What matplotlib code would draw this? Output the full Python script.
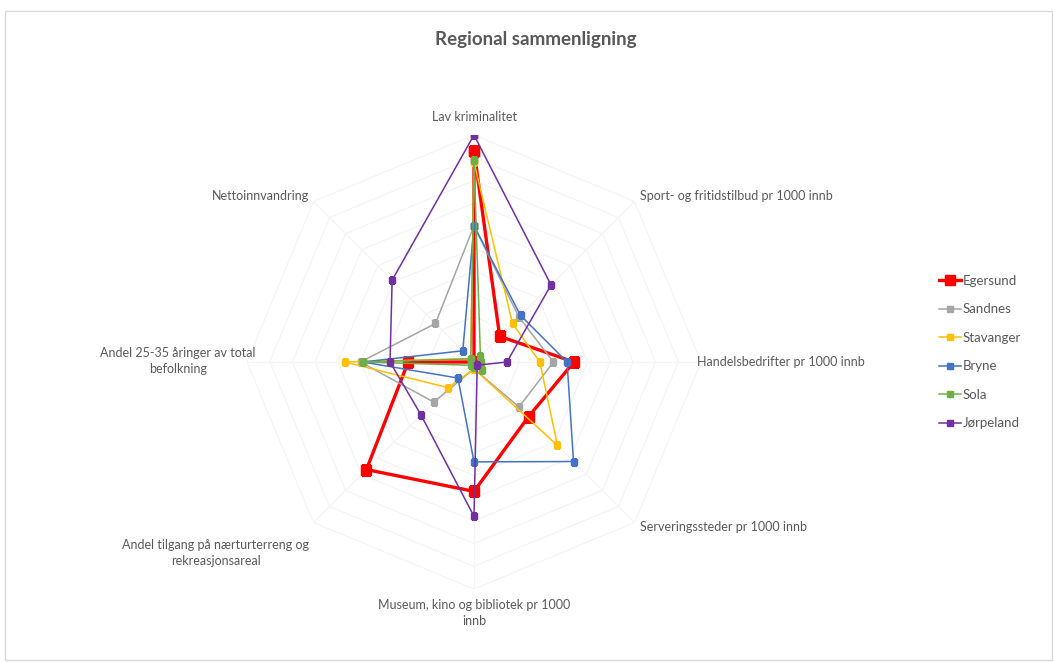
import numpy as np
import matplotlib
matplotlib.use("Agg")
import matplotlib.pyplot as plt
from matplotlib.patches import Rectangle

# Radar categories (clockwise from top)
categories = [
    "Lav kriminalitet",
    "Sport- og fritidstilbud pr 1000 innb",
    "Handelsbedrifter pr 1000 innb",
    "Serveringssteder pr 1000 innb",
    "Museum, kino og bibliotek pr 1000\ninnb",
    "Andel tilgang på nærturterreng og\nrekreasjonsareal",
    "Andel 25-35 åringer av total\nbefolkning",
    "Nettoinnvandring",
]

egersund = [0.93, 0.16, 0.44, 0.34, 0.57, 0.67, 0.29, 0.00]
sandnes = [0.60, 0.28, 0.35, 0.28, 0.03, 0.25, 0.50, 0.24]
stavanger = [0.88, 0.24, 0.29, 0.52, 0.03, 0.16, 0.57, 0.02]
bryne = [0.60, 0.29, 0.41, 0.62, 0.44, 0.10, 0.49, 0.07]
sola = [0.89, 0.04, 0.03, 0.05, 0.02, 0.02, 0.49, 0.02]
jorpeland = [1.00, 0.48, 0.145, 0.02, 0.68, 0.33, 0.37, 0.51]

series = [
    ("Egersund", egersund, "#FF0000", 2.4, 7),
    ("Sandnes", sandnes, "#A5A5A5", 1.1, 4.5),
    ("Stavanger", stavanger, "#FFC000", 1.1, 4.5),
    ("Bryne", bryne, "#4472C4", 1.1, 4.5),
    ("Sola", sola, "#70AD47", 1.1, 4.5),
    ("Jørpeland", jorpeland, "#7030A0", 1.1, 4.5),
]

W, H = 1054, 662
plt.rcParams["font.family"] = ["Lato", "DejaVu Sans"]
fig = plt.figure(figsize=(W / 100, H / 100), dpi=100)


def px(x, y):
    return x / W, 1 - y / H


# chart frame
fig.patches.append(Rectangle(px(5, 660), (W - 7) / W, (660 - 11) / H,
                             transform=fig.transFigure, fill=False,
                             edgecolor="#d9d9d9", linewidth=1.0))

# polar axes centred at (474, 362) px with radius 227 px
cx, cy, R = 474, 362, 227
ax = fig.add_axes([(cx - R) / W, (H - cy - R) / H, 2 * R / W, 2 * R / H],
                  projection="polar")
ax.set_theta_zero_location("N")
ax.set_theta_direction(-1)
ax.set_ylim(0, 1)
ax.grid(False)
ax.spines["polar"].set_visible(False)
ax.set_xticks([])
ax.set_yticks([])
ax.patch.set_alpha(0)

n = len(categories)
theta = np.linspace(0, 2 * np.pi, n, endpoint=False)
theta_c = np.append(theta, theta[0])

# faint web grid
for r in np.linspace(0.1, 1.0, 10):
    ax.plot(theta_c, [r] * (n + 1), color="#f4f4f4", lw=0.9, zorder=1)
for t in theta:
    ax.plot([t, t], [0, 1], color="#f4f4f4", lw=0.9, zorder=1)

for name, vals, color, lw, ms in series:
    v = np.append(vals, vals[0])
    ax.plot(theta_c, v, color=color, lw=lw, marker="s", ms=ms,
            markeredgecolor=color, label=name, zorder=3)

# axis labels
lab_kw = dict(fontsize=9, color="#595959", transform=fig.transFigure)
fig.text(*px(474, 117), categories[0], ha="center", va="center", **lab_kw)
fig.text(*px(640, 196), categories[1], ha="left", va="center", **lab_kw)
fig.text(*px(697, 362), categories[2], ha="left", va="center", **lab_kw)
fig.text(*px(640, 527), categories[3], ha="left", va="center", **lab_kw)
fig.text(*px(474, 613), categories[4], ha="center", va="center",
         multialignment="center", linespacing=1.35, **lab_kw)
fig.text(*px(309, 553), categories[5], ha="right", va="center",
         multialignment="center", linespacing=1.35, **lab_kw)
fig.text(*px(256, 361), categories[6], ha="right", va="center",
         multialignment="center", linespacing=1.35, **lab_kw)
fig.text(*px(309, 196), categories[7], ha="right", va="center", **lab_kw)

fig.text(*px(536, 40), "Regional sammenligning", ha="center", va="center",
         fontsize=13.5, fontweight="bold", color="#595959")

fig.legend(loc="center left", bbox_to_anchor=px(927, 352), frameon=False,
           fontsize=9.5, labelcolor="#595959", handlelength=1.7,
           handletextpad=0.1, labelspacing=1.25, markerscale=1.0)

fig.savefig("out.png", dpi=100, facecolor="white")
